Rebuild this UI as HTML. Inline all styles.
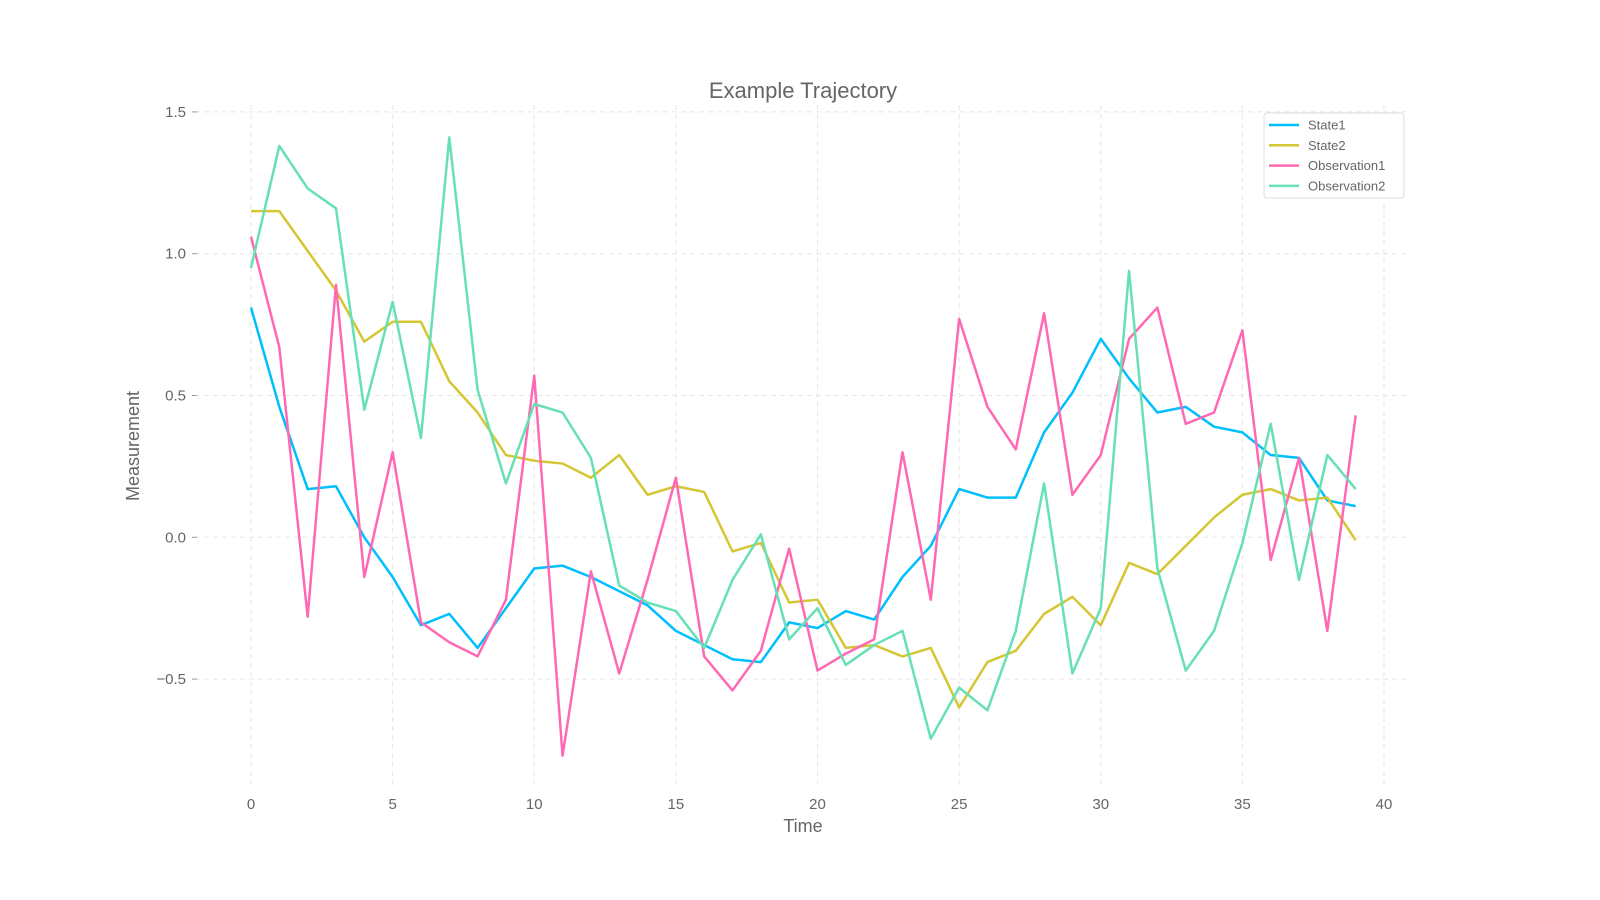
<!DOCTYPE html>
<html><head><meta charset="utf-8"><style>
body{margin:0;background:#fff;}
svg{display:block;font-family:"Liberation Sans","DejaVu Sans",sans-serif;}
</style></head><body>
<svg id="chart" width="1600" height="900">
<text x="803" y="98" font-size="22" fill="#666" text-anchor="middle">Example Trajectory</text>
<g id="grid"></g><g id="axes"></g><g id="series"></g>
<text x="803" y="832" font-size="18" fill="#666" text-anchor="middle">Time</text>
<text transform="translate(139,446) rotate(-90)" font-size="18" fill="#666" text-anchor="middle">Measurement</text>
<g id="legend"></g>
</svg>
<script>
const state1=[0.81,0.46,0.17,0.18,0.0,-0.14,-0.31,-0.27,-0.39,-0.25,-0.11,-0.10,-0.14,-0.19,-0.24,-0.33,-0.38,-0.43,-0.44,-0.30,-0.32,-0.26,-0.29,-0.14,-0.03,0.17,0.14,0.14,0.37,0.51,0.70,0.56,0.44,0.46,0.39,0.37,0.29,0.28,0.13,0.11];
const state2=[1.15,1.15,1.01,0.87,0.69,0.76,0.76,0.55,0.44,0.29,0.27,0.26,0.21,0.29,0.15,0.18,0.16,-0.05,-0.02,-0.23,-0.22,-0.39,-0.38,-0.42,-0.39,-0.60,-0.44,-0.40,-0.27,-0.21,-0.31,-0.09,-0.13,-0.03,0.07,0.15,0.17,0.13,0.14,-0.01];
const obs1=[1.06,0.67,-0.28,0.89,-0.14,0.30,-0.30,-0.37,-0.42,-0.22,0.57,-0.77,-0.12,-0.48,-0.15,0.21,-0.42,-0.54,-0.40,-0.04,-0.47,-0.41,-0.36,0.30,-0.22,0.77,0.46,0.31,0.79,0.15,0.29,0.70,0.81,0.40,0.44,0.73,-0.08,0.28,-0.33,0.43];
const obs2=[0.95,1.38,1.23,1.16,0.45,0.83,0.35,1.41,0.52,0.19,0.47,0.44,0.28,-0.17,-0.23,-0.26,-0.39,-0.15,0.01,-0.36,-0.25,-0.45,-0.38,-0.33,-0.71,-0.53,-0.61,-0.33,0.19,-0.48,-0.25,0.94,-0.11,-0.47,-0.33,-0.02,0.40,-0.15,0.29,0.17];
const seriesNames=["State1","State2","Observation1","Observation2"];
const xTicks=[0,5,10,15,20,25,30,35,40];
const yTicks=[1.5,1.0,0.5,0.0,-0.5];
const yTickLabels=["1.5","1.0","0.5","0.0","\u22120.5"];
const colors=["#00bfff","#d4c733","#ff69b4","#66e0b4"];
const X=v=>251+v*28.325, Y=v=>537.3-v*283.6;
const NS="http://www.w3.org/2000/svg";
function mk(t,a,p){const e=document.createElementNS(NS,t);for(const k in a)e.setAttribute(k,a[k]);p.appendChild(e);return e;}
const grid=document.getElementById('grid'),axes=document.getElementById('axes'),ser=document.getElementById('series'),leg=document.getElementById('legend');
xTicks.forEach(t=>{
 const l=mk('line',{x1:X(t),x2:X(t),y1:105,y2:787,stroke:"#e6e6e6","stroke-dasharray":"5,4"},grid);
 
 
 const tx=mk('text',{x:X(t),y:809,"font-size":15,fill:"#666","text-anchor":"middle"},axes);
 tx.textContent=t;
 
 
});
yTicks.forEach((t,i)=>{
 const l=mk('line',{x1:195,x2:1411,y1:Y(t),y2:Y(t),stroke:"#e6e6e6","stroke-dasharray":"5,4"},grid);
 
 
 mk('line',{x1:192,x2:197,y1:Y(t),y2:Y(t),stroke:"#999"},axes);
 const tx=mk('text',{x:186,y:Y(t)+5,"font-size":15,fill:"#666","text-anchor":"end"},axes);
 tx.textContent=yTickLabels[i];
 
 
});
[state1,state2,obs1,obs2].forEach((d,s)=>{
 const p=mk('polyline',{points:d.map((v,i)=>X(i)+","+Y(v)).join(" "),fill:"none",stroke:colors[s],"stroke-width":2.5,"stroke-linejoin":"round"},ser);
 
 
});
mk('rect',{x:1264,y:113,width:140,height:85,fill:"#fff",stroke:"#ddd",rx:3},leg);
seriesNames.forEach((n,i)=>{
 const y=125+i*20.3;
 mk('line',{x1:1269,x2:1299,y1:y,y2:y,stroke:colors[i],"stroke-width":2.5},leg);
 const t=mk('text',{x:1308,y:y+4.5,"font-size":13,fill:"#666"},leg);
 t.textContent=n;
 
 
});
</script>
</body></html>
